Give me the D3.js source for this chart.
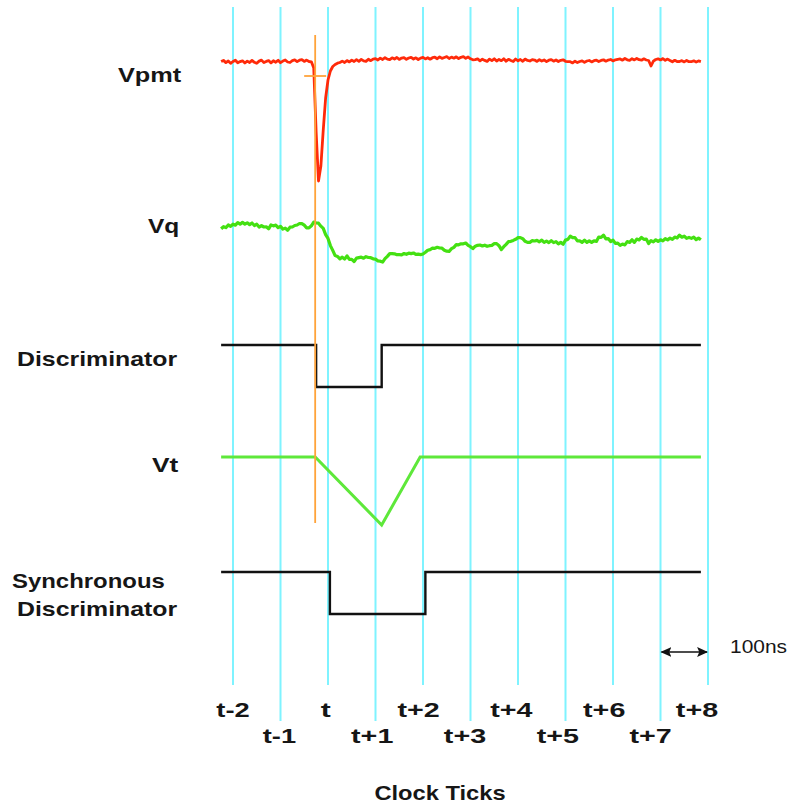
<!DOCTYPE html>
<html>
<head>
<meta charset="utf-8">
<script src="https://cdn.jsdelivr.net/npm/d3@7"></script>
<style>
  html, body { margin: 0; padding: 0; background: #fff; }
  svg { display: block; }
  .lbl { font-family: "Liberation Sans", Arial, sans-serif; font-weight: bold; font-size: 21px; fill: #161616; }
</style>
</head>
<body>
<svg id="chart" width="793" height="805"></svg>
<script>
// Clock tick positions (in units of one clock period) and their labels
const tickOffsets = [-2, -1, 0, 1, 2, 3, 4, 5, 6, 7, 8];
const tickLabels = ["t-2", "t-1", "t", "t+1", "t+2", "t+3", "t+4", "t+5", "t+6", "t+7", "t+8"];

// Signal names shown on the left (second-level lines split on the space)
const rowLabels = ["Vpmt", "Vq", "Discriminator", "Vt", "Synchronous Discriminator"];

// Sampled traces: time base in clock periods
const sampleStart = -2.25;
const sampleStep = 0.05;

// PMT anode voltage (arbitrary units, baseline 0)
const vpmt = [
  0.4, 1.6, -0.6, 1.0, -1.3, 0.5, 1.8, -0.8, 0.4, 1.2, -1.0, 0.9, -0.5, 1.6, -0.3, -1.3, 0.9, 1.9, -0.6, 0.6,
  1.4, -0.9, 1.2, -0.2, 1.7, -0.7, 0.9, 2.0, 0.0, -0.5, 1.3, 2.1, 0.4, 1.8, 2.4, 0.6, 1.9, 0.5, 0.2,
  -6, -70, -119, -104, -68, -36, -18, -9, -4.5, -2.5, -1.2, -0.5,
  0.9, -0.5, 1.4, 0.1, 1.9, 0.5, 2.3, 0.7, 2.6, 1.1, 0.6, 2.7, 1.3, 2.9,
  3.4, 2.0, 3.9, 2.5, 4.3, 2.9, 2.4, 4.2, 3.0, 4.5, 2.6, 3.9, 4.4, 2.7, 4.0, 4.7, 3.0, 4.2, 2.5, 3.9, 4.6, 3.1, 4.3, 2.8, 4.3,
  4.8, 3.3, 5.1, 3.6, 4.5, 5.3, 3.5, 4.9, 3.8, 5.2, 3.4, 4.7, 5.4, 3.7, 5.0, 3.2, 2.2,
  2.3, 3.1, 1.1, 2.8, 1.6, 0.6, 2.9, 1.4, 3.2, 0.9, 2.6, 1.3, 3.3, 0.8, 2.7, 1.5, 0.5, 3.0, 1.2, 2.5, 0.7, 2.9, 1.6, 1.0, 2.4,
  1.9, 0.6, 2.3, 1.0, 2.1, 0.4, 1.8, 2.4, 0.8, 2.0, 0.5, 1.7, 2.2, 0.7, 0.4,
  0.3, -0.9, 0.8, -0.6, 0.5, 1.2, -0.4, 1.0, 1.5, 0.1, 1.3, 1.8, 0.5, 1.6, 2.2, 0.8, 1.9, 2.5, 1.1, 2.2, 2.7,
  3.1, 1.8, 3.5, 2.2, 1.7, 3.3, 2.1, 3.6, 2.3, 1.8, 3.2, 2.0, 1.5, -4.0, 0.8, 2.5, 3.2, 2.1, 3.4, 1.7, 2.9,
  1.5, 0.2, 1.7, 0.4, 0.5, 1.3, 0.1, 1.6, 0.3, 0.3, 1.2, 0.0, 1.1, 0.4
];

// Integrator charge voltage (arbitrary units, baseline 0)
const vq = [
  -1.8, 0.3, -0.6, 2.0, 0.6, 2.9, 1.8, 4.4, 2.8, 4.6,
  2.9, 4.2, 2.4, 4.0, 1.5, 2.8, -0.1, 1.4, 0.0, 0.2,
  -1.8, 2.1, 1.1, 1.9, -0.7, 0.7, -2.1, -1.1, -3.2, -0.2,
  0.0, 1.5, 2.0, 3.5, 3.4, 1.8, -0.8, -0.9, 1.2, 4.9,
  4.0, 3.8, 0.8, -1.4, -7.6, -11.4, -18.6, -23.4, -28.6, -29.4,
  -31.8, -30.2, -32.1, -28.9, -32.4, -32.3, -34.5, -31.1, -30.6, -30.2,
  -31.2, -29.7, -30.5, -30.7, -31.8, -32.2, -33.8, -34.2, -35.1, -31.7,
  -29.4, -26.6, -26.6, -26.8, -27.7, -27.7, -27.8, -26.5, -27.3, -26.2,
  -26.6, -26.0, -27.4, -27.2, -27.6, -27.0, -25.3, -23.2, -22.6, -21.2,
  -21.3, -20.3, -21.0, -21.2, -23.3, -24.2, -24.3, -21.7, -20.3, -17.7,
  -17.8, -16.8, -16.8, -16.0, -18.3, -19.7, -21.6, -19.2, -18.3, -18.0,
  -19.0, -18.2, -19.3, -18.7, -18.3, -16.7, -16.6, -18.7, -22.6, -19.7,
  -17.3, -14.7, -14.3, -13.4, -12.3, -10.7, -10.6, -11.7, -14.3, -15.4,
  -15.3, -13.7, -14.0, -13.4, -14.8, -13.1, -15.4, -14.1, -15.6, -13.6,
  -15.6, -14.6, -16.9, -15.4, -17.2, -13.1, -12.4, -9.1, -10.6, -10.6,
  -13.9, -13.8, -15.4, -13.1, -15.4, -13.8, -15.4, -13.8, -14.4, -10.1,
  -10.4, -8.1, -11.9, -11.6, -14.6, -13.1, -16.4, -16.1, -18.4, -17.1,
  -17.9, -14.6, -15.4, -12.8, -15.4, -12.1, -12.9, -10.4, -12.4, -12.1,
  -16.6, -13.6, -14.9, -12.8, -14.4, -12.8, -13.9, -11.6, -12.9, -11.1,
  -12.4, -10.1, -10.9, -8.1, -10.2, -9.1, -11.4, -10.4, -11.4, -10.1,
  -12.6, -11.1, -12.8
];

// Logic / ramp signals as [time, level] corner points
const discriminator = [[-2.25, 1], [-0.25, 0], [1.13, 1], [7.85, 1]];
const vt = [[-2.25, 0], [-0.27, 0], [1.13, -1], [1.94, 0], [7.85, 0]];
const syncDiscriminator = [[-2.25, 1], [0.04, 0], [2.05, 1], [7.85, 1]];

// Trigger instant and the one-period scale bar
const triggerTime = -0.27;
const scaleBar = { from: 7, to: 8, label: "100ns" };

const svg = d3.select("#chart");

// Horizontal time scale shared by all traces
const x = d3.scaleLinear().domain([-2, 8]).range([233, 708]);
// Tick label positions (labels sit on a slightly tighter pitch)
const xLabel = d3.scaleLinear().domain([-2, 8]).range([233, 697]);

// One vertical scale per signal row
const yPmt = d3.scaleLinear().domain([-119, 0]).range([181, 62]);
const yQ = d3.scaleLinear().domain([-34, 0]).range([261, 227]);
const yDisc = d3.scaleLinear().domain([0, 1]).range([387, 345]);
const yVt = d3.scaleLinear().domain([-1, 0]).range([525, 457]);
const ySync = d3.scaleLinear().domain([0, 1]).range([614, 572]);

// Wide bold lettering: set in Liberation Sans and spread to the
// advance width of DejaVu Sans Bold at the same size.
function widen(sel) {
  sel.each(function () {
    const node = this;
    node.style.fontFamily = "'DejaVu Sans', sans-serif";
    const w = node.getComputedTextLength();
    node.style.fontFamily = "";
    node.setAttribute("textLength", w.toFixed(1));
    node.setAttribute("lengthAdjust", "spacingAndGlyphs");
  });
}

// Vertical clock lines
svg.append("g").selectAll("line")
  .data(tickOffsets)
  .join("line")
  .attr("x1", d => x(d)).attr("x2", d => x(d))
  .attr("y1", 7)
  .attr("y2", (d, i) => i % 2 === 0 ? 685 : 721)
  .attr("stroke", "#7ff3ff")
  .attr("stroke-width", 2);

// Clock tick labels, alternating rows
svg.append("g").selectAll("text")
  .data(tickOffsets)
  .join("text")
  .attr("class", "lbl")
  .attr("x", d => xLabel(d))
  .attr("y", (d, i) => i % 2 === 0 ? 717 : 743)
  .attr("text-anchor", "middle")
  .text((d, i) => tickLabels[i])
  .call(widen);

// Sampled traces
const sampled = arr => arr.map((v, i) => [sampleStart + i * sampleStep, v]);

svg.append("path")
  .datum(sampled(vpmt))
  .attr("fill", "none")
  .attr("stroke", "#ff2a0a")
  .attr("stroke-width", 2.8)
  .attr("stroke-linejoin", "round")
  .attr("d", d3.line().x(d => x(d[0])).y(d => yPmt(d[1])));

svg.append("path")
  .datum(sampled(vq))
  .attr("fill", "none")
  .attr("stroke", "#44e012")
  .attr("stroke-width", 3.2)
  .attr("stroke-linejoin", "round")
  .attr("d", d3.line().x(d => x(d[0])).y(d => yQ(d[1])));

// Discriminator output (step)
svg.append("path")
  .datum(discriminator)
  .attr("fill", "none")
  .attr("stroke", "#111")
  .attr("stroke-width", 2.4)
  .attr("d", d3.line().curve(d3.curveStepAfter).x(d => x(d[0])).y(d => yDisc(d[1])));

// Time-to-amplitude ramp
svg.append("path")
  .datum(vt)
  .attr("fill", "none")
  .attr("stroke", "#5ee83a")
  .attr("stroke-width", 3)
  .attr("d", d3.line().x(d => x(d[0])).y(d => yVt(d[1])));

// Synchronous discriminator (step)
svg.append("path")
  .datum(syncDiscriminator)
  .attr("fill", "none")
  .attr("stroke", "#111")
  .attr("stroke-width", 2.4)
  .attr("d", d3.line().curve(d3.curveStepAfter).x(d => x(d[0])).y(d => ySync(d[1])));

// Trigger marker: vertical line and crosshair on the PMT threshold
const orange = "#ffa33a";
svg.append("line")
  .attr("x1", x(triggerTime)).attr("x2", x(triggerTime))
  .attr("y1", 35).attr("y2", 523)
  .attr("stroke", orange).attr("stroke-width", 1.8);
svg.append("line")
  .attr("x1", x(triggerTime) - 11).attr("x2", x(triggerTime) + 11)
  .attr("y1", 76).attr("y2", 76)
  .attr("stroke", orange).attr("stroke-width", 1.8);

// Scale bar: one clock period
const defs = svg.append("defs");
["start", "end"].forEach(id => {
  defs.append("marker")
    .attr("id", "arrow-" + id)
    .attr("viewBox", "0 0 10 10")
    .attr("refX", 9).attr("refY", 5)
    .attr("markerWidth", 11).attr("markerHeight", 11)
    .attr("markerUnits", "userSpaceOnUse")
    .attr("orient", id === "end" ? "auto" : "auto-start-reverse")
    .append("path")
    .attr("d", "M0,0.5 L10,5 L0,9.5 L2,5 z")
    .attr("fill", "#111");
});
svg.append("line")
  .attr("x1", x(scaleBar.from) + 1).attr("x2", x(scaleBar.to) - 1)
  .attr("y1", 652).attr("y2", 652)
  .attr("stroke", "#111").attr("stroke-width", 1.6)
  .attr("marker-start", "url(#arrow-start)")
  .attr("marker-end", "url(#arrow-end)");
svg.append("text")
  .attr("x", x(scaleBar.to) + 22).attr("y", 653)
  .style("font-family", "'Liberation Sans', Arial, sans-serif")
  .style("font-size", "18px")
  .style("fill", "#161616")
  .text(scaleBar.label)
  .each(function () {
    this.setAttribute("textLength", "57");
    this.setAttribute("lengthAdjust", "spacingAndGlyphs");
  });

// Row labels
const rowLabelPos = [
  { x: [118], y: [82] },
  { x: [148], y: [233] },
  { x: [17], y: [366] },
  { x: [152], y: [472] },
  { x: [12, 17], y: [588, 616] }
];
rowLabels.forEach((name, r) => {
  name.split(" ").forEach((ln, k) => {
    svg.append("text")
      .attr("class", "lbl")
      .attr("x", rowLabelPos[r].x[k])
      .attr("y", rowLabelPos[r].y[k])
      .text(ln)
      .call(widen);
  });
});

// Axis title
svg.append("text")
  .attr("class", "lbl")
  .attr("x", 440).attr("y", 800)
  .attr("text-anchor", "middle")
  .text("Clock Ticks")
  .call(widen);
</script>
</body>
</html>
